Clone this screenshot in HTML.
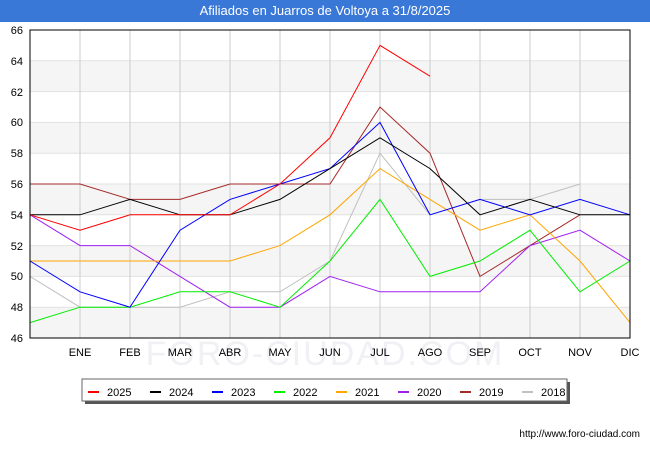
<!DOCTYPE html>
<html><head><meta charset="utf-8"><style>
body{margin:0;width:650px;height:450px;background:#fff;font-family:"Liberation Sans","DejaVu Sans",sans-serif;overflow:hidden}
.t{position:absolute;left:0;top:0;width:650px;height:22px;background:#3a78d8;color:#fff;font-size:13px;text-align:center;line-height:22px}
</style></head><body>
<div class="t">Afiliados en Juarros de Voltoya a 31/8/2025</div>
<svg id="s" width="650" height="450" style="position:absolute;left:0;top:0" font-family="Liberation Sans, DejaVu Sans, sans-serif">
<g id="bands"></g>
<g id="grid"></g>
<text x="325" y="365" text-anchor="middle" font-size="34" fill="#f0f0f5" letter-spacing="2">FORO-CIUDAD.COM</text>
<g id="lines"></g>
<rect x="30" y="30" width="600" height="308" fill="none" stroke="#000" stroke-width="1"/>
<g font-size="11" fill="#000" text-anchor="end" id="yl">
<text x="23" y="34">66</text><text x="23" y="65">64</text><text x="23" y="96">62</text><text x="23" y="126">60</text><text x="23" y="157">58</text><text x="23" y="188">56</text><text x="23" y="219">54</text><text x="23" y="250">52</text><text x="23" y="280">50</text><text x="23" y="311">48</text><text x="23" y="342">46</text>
</g>
<g font-size="11" fill="#000" text-anchor="middle">
<text x="80" y="356">ENE</text><text x="130" y="356">FEB</text><text x="180" y="356">MAR</text><text x="230" y="356">ABR</text><text x="280" y="356">MAY</text><text x="330" y="356">JUN</text><text x="380" y="356">JUL</text><text x="430" y="356">AGO</text><text x="480" y="356">SEP</text><text x="530" y="356">OCT</text><text x="580" y="356">NOV</text><text x="630" y="356">DIC</text>
</g>
<rect x="85" y="382" width="485" height="22" fill="#555"/>
<rect x="82" y="379" width="485" height="22" fill="#fff" stroke="#666"/>
<g font-size="11" fill="#000">
<line x1="88" y1="392" x2="99" y2="392" stroke="#ff0000" stroke-width="2"/><text x="107" y="396">2025</text>
<line x1="150" y1="392" x2="161" y2="392" stroke="#000" stroke-width="2"/><text x="169" y="396">2024</text>
<line x1="212" y1="392" x2="223" y2="392" stroke="#0000ff" stroke-width="2"/><text x="231" y="396">2023</text>
<line x1="274" y1="392" x2="285" y2="392" stroke="#00ee00" stroke-width="2"/><text x="293" y="396">2022</text>
<line x1="336" y1="392" x2="347" y2="392" stroke="#ffa500" stroke-width="2"/><text x="355" y="396">2021</text>
<line x1="398" y1="392" x2="409" y2="392" stroke="#a020f0" stroke-width="2"/><text x="417" y="396">2020</text>
<line x1="460" y1="392" x2="471" y2="392" stroke="#a52a2a" stroke-width="2"/><text x="479" y="396">2019</text>
<line x1="522" y1="392" x2="533" y2="392" stroke="#c0c0c0" stroke-width="2"/><text x="541" y="396">2018</text>
</g>
<text x="640" y="437" text-anchor="end" font-size="10" fill="#000">http://www.foro-ciudad.com</text>
</svg>
<script>
const ns="http://www.w3.org/2000/svg";
const Y=v=>338-(v-46)*15.4, X=i=>30+i*50;
const b=document.getElementById("bands"),g=document.getElementById("grid"),l=document.getElementById("lines");
function el(p,t,a){const e=document.createElementNS(ns,t);for(const k in a)e.setAttribute(k,a[k]);p.appendChild(e);}
for(let v=46;v<66;v+=4){el(b,"rect",{x:30,y:Y(v+2),width:600,height:30.8,fill:"#f5f5f5"});}
for(let v=48;v<66;v+=2)el(g,"line",{x1:30,x2:630,y1:Y(v),y2:Y(v),stroke:"#e2e2e2"});
for(let i=1;i<12;i++)el(g,"line",{x1:X(i),x2:X(i),y1:30,y2:338,stroke:"#cccccc"});
const S=[
["#c0c0c0",[50,48,48,48,49,49,51,58,54,55,55,56]],
["#a52a2a",[56,56,55,55,56,56,56,61,58,50,52,54]],
["#a020f0",[54,52,52,50,48,48,50,49,49,49,52,53,51]],
["#ffa500",[51,51,51,51,51,52,54,57,55,53,54,51,47]],
["#00ee00",[47,48,48,49,49,48,51,55,50,51,53,49,51]],
["#0000ff",[51,49,48,53,55,56,57,60,54,55,54,55,54]],
["#000000",[54,54,55,54,54,55,57,59,57,54,55,54,54]],
["#ff0000",[54,53,54,54,54,56,59,65,63]]];
for(const [c,d] of S)el(l,"polyline",{points:d.map((v,i)=>X(i)+","+Y(v)).join(" "),fill:"none",stroke:c,"stroke-width":1});
</script>
</body></html>
